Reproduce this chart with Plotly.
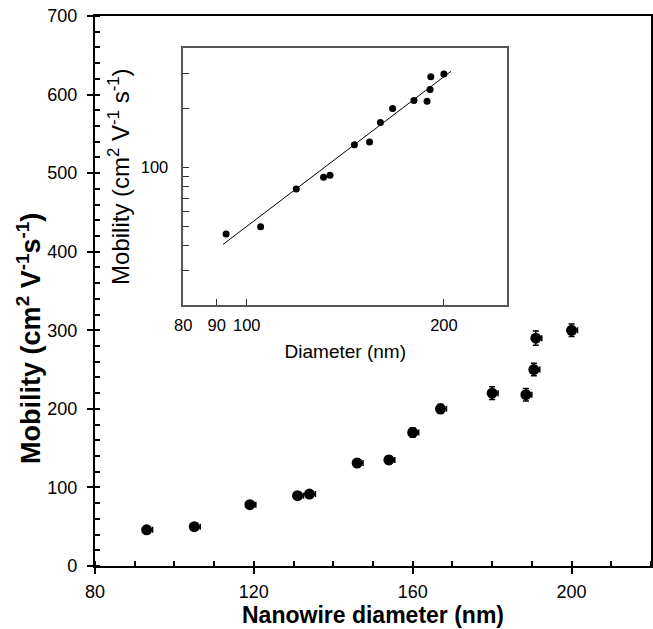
import plotly.graph_objects as go

# ---- data ----
diameter = [93, 105, 119, 131, 134, 146, 154, 160, 167, 180, 188.5, 190.5, 191, 200]
mobility = [46, 50, 78, 89.5, 91.5, 131, 135, 170, 200, 220, 218, 250, 290, 300]
diam_err_plus = [1.5, 1.5, 1.5, 1.5, 1.5, 1.5, 1.5, 1.5, 1.5, 1.5, 1.5, 1.5, 1.5, 1.5]
mob_err = [3, 3, 4, 4, 4, 5, 5, 6, 6, 8, 8, 8, 9, 8]
fit_diameter = [92, 205]
fit_mobility = [40.7, 309]

main_x_ticks = [80, 120, 160, 200]
main_y_ticks = [0, 100, 200, 300, 400, 500, 600, 700]
inset_x_ticks = [80, 90, 100, 200]
inset_x_labels = ["80", "90", "100", "200"]
inset_y_major = [100]
inset_y_minor = [30, 40, 50, 60, 70, 80, 90, 200, 300]

FONT = "Liberation Sans, Arial, Helvetica, sans-serif"

fig = go.Figure()

# main scatter with error bars
fig.add_trace(go.Scatter(
    x=diameter, y=mobility, mode="markers",
    marker=dict(color="black", size=11),
    error_x=dict(type="data", symmetric=False, array=diam_err_plus,
                 arrayminus=[0] * len(diameter), color="black", thickness=1.5, width=3),
    error_y=dict(type="data", array=mob_err, color="black", thickness=1.5, width=3),
    xaxis="x", yaxis="y", showlegend=False,
))

# overlay axes for inside part of major ticks
fig.add_trace(go.Scatter(x=[None], y=[None], xaxis="x3", yaxis="y3",
                         showlegend=False, hoverinfo="skip"))

# inset
fig.add_trace(go.Scatter(
    x=fit_diameter, y=fit_mobility, mode="lines",
    line=dict(color="black", width=1), xaxis="x2", yaxis="y2", showlegend=False,
))
fig.add_trace(go.Scatter(
    x=diameter, y=mobility, mode="markers",
    marker=dict(color="black", size=7), xaxis="x2", yaxis="y2", showlegend=False,
))

fig.update_layout(
    width=653, height=629,
    margin=dict(l=95, r=2, t=16, b=63, autoexpand=False),
    paper_bgcolor="white", plot_bgcolor="white",
    font=dict(family=FONT, color="black", size=18),
    xaxis=dict(
        range=[80, 220], tickvals=main_x_ticks, ticks="outside", ticklen=6,
        tickwidth=1.5, tickcolor="black",
        minor=dict(dtick=10, tick0=80, ticks="inside", ticklen=5, tickwidth=1.5, tickcolor="black"),
        showline=True, mirror=True, linewidth=2.2, linecolor="black",
        showgrid=False, zeroline=False,
        tickfont=dict(size=18), ticklabelstandoff=2,
        title=dict(text="<b>Nanowire diameter (nm)</b>", font=dict(size=23), standoff=4),
    ),
    yaxis=dict(
        range=[0, 700], tickvals=main_y_ticks, ticks="outside", ticklen=6,
        tickwidth=1.5, tickcolor="black",
        minor=dict(dtick=20, tick0=0, ticks="inside", ticklen=5, tickwidth=1.5, tickcolor="black"),
        showline=True, mirror=True, linewidth=2.2, linecolor="black",
        showgrid=False, zeroline=False,
        tickfont=dict(size=18), ticklabelstandoff=6,
    ),
    xaxis3=dict(overlaying="x", matches="x", anchor="y3", tickvals=main_x_ticks,
                ticks="inside", ticklen=5, tickwidth=1.5, tickcolor="black",
                showticklabels=False, showline=False, showgrid=False, zeroline=False),
    yaxis3=dict(overlaying="y", matches="y", anchor="x3", tickvals=main_y_ticks,
                ticks="inside", ticklen=5, tickwidth=1.5, tickcolor="black",
                showticklabels=False, showline=False, showgrid=False, zeroline=False),
    xaxis2=dict(
        type="log", range=[1.9031, 2.3979], domain=[0.1588, 0.7416], anchor="y2",
        tickvals=inset_x_ticks, ticktext=inset_x_labels,
        ticks="inside", ticklen=6, tickwidth=1, tickcolor="#333",
        showline=True, mirror=True, linewidth=1.5, linecolor="#555",
        showgrid=False, zeroline=False,
        tickfont=dict(size=16.5), ticklabelstandoff=4,
        title=dict(text="Diameter (nm)", font=dict(size=19), standoff=12),
    ),
    yaxis2=dict(
        type="log", range=[1.30103, 2.6075], domain=[0.4745, 0.9413], anchor="x2",
        tickvals=inset_y_major, ticktext=["100"],
        ticks="inside", ticklen=6, tickwidth=1, tickcolor="#333",
        minor=dict(tickvals=inset_y_minor, ticks="inside", ticklen=6, tickwidth=1,
                   tickcolor="#333", showgrid=False),
        showline=True, mirror=True, linewidth=1.5, linecolor="#555",
        showgrid=False, zeroline=False,
        tickfont=dict(size=16.5), ticklabelstandoff=10,
        title=dict(text="Mobility (cm<sup>2</sup> V<sup>-1</sup> s<sup>-1</sup>)",
                   font=dict(size=24), standoff=4),
    ),
    annotations=[dict(
        text="<b>Mobility (cm<sup>2</sup> V<sup>-1</sup>s<sup>-1</sup>)</b>",
        xref="paper", yref="y", x=-0.085, y=290, xanchor="right", yanchor="middle",
        textangle=-90, showarrow=False, font=dict(size=27),
    )],
)

fig.write_html("out.html", post_script="document.body.style.margin='0px';",
               config={"displayModeBar": False})
